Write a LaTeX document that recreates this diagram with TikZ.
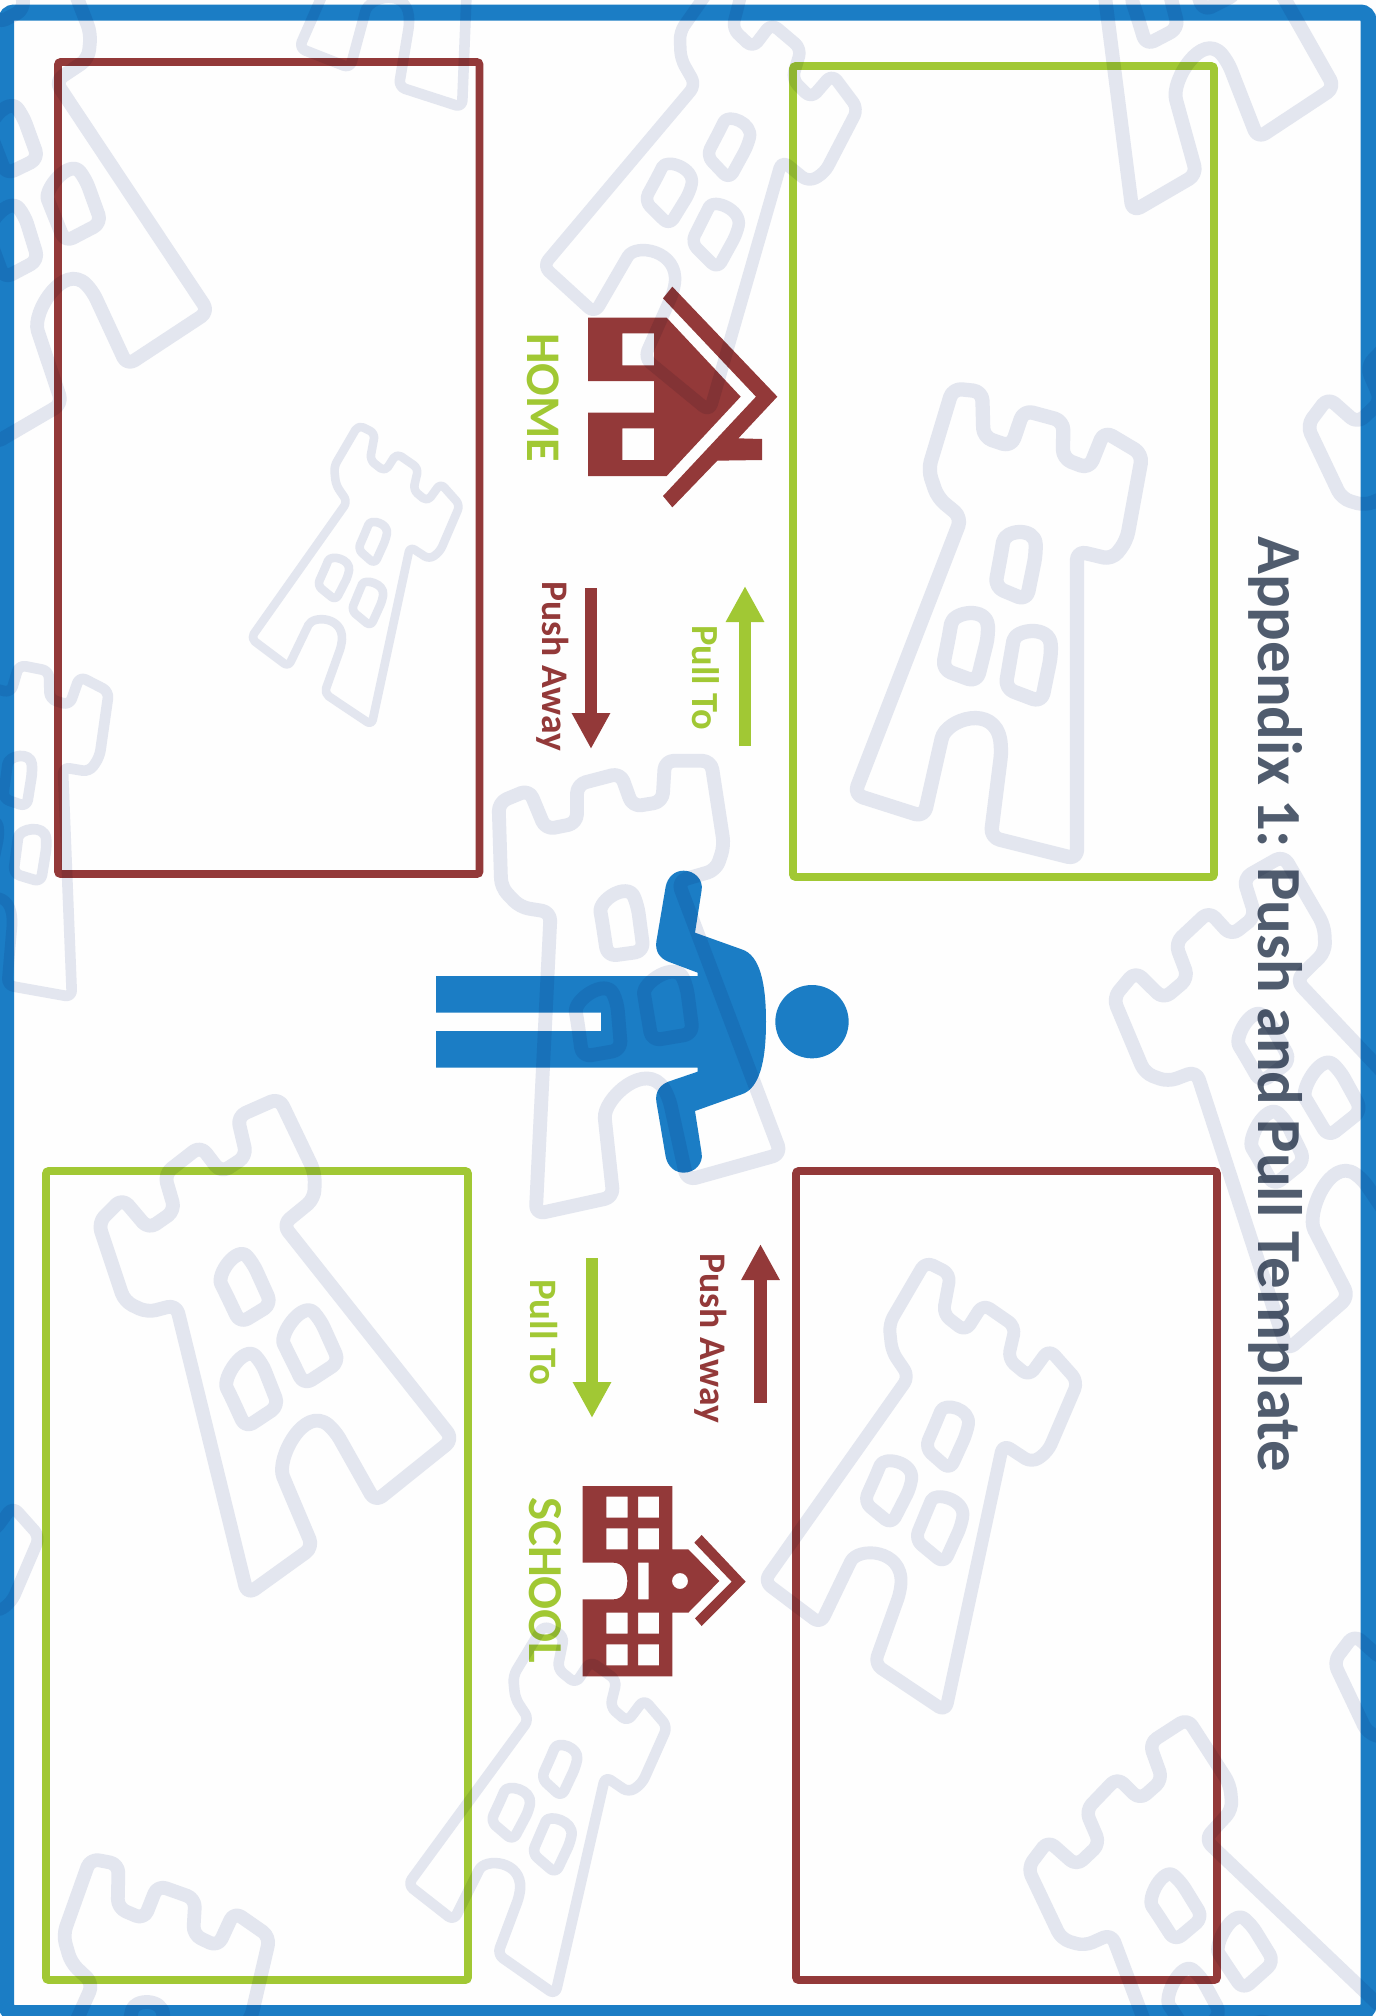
\documentclass[tikz,border=0pt]{standalone}
\usepackage{fontspec}
\usepackage{graphicx}
\setmainfont{Carlito}
\usetikzlibrary{arrows.meta}
\definecolor{brick}{RGB}{147,57,57}
\definecolor{leaf}{RGB}{161,200,52}
\definecolor{sky}{RGB}{27,125,197}
\definecolor{slatecol}{RGB}{80,92,110}
\definecolor{wmark}{RGB}{228,231,240}
\definecolor{paper}{RGB}{254,254,254}
\tikzset{
  framebox/.style={draw=#1,line width=7.6bp,rounded corners=2.5bp},
  lab/.style={rotate=-90,anchor=base west,inner sep=0pt,font=\bfseries},
  blockarrow/.style={draw=#1,line width=12.3bp,-{Triangle[length=36bp,width=36bp,fill=#1]}},
  zcoords/.style={scale=1/3}
}
\newcommand\wtower[5]{%
  \pgfmathsetmacro\wlw{8.6*#4}\pgfmathsetmacro\wrc{5.5*#4}%
  \begin{scope}[shift={(#1,#2)},xscale=#5,rotate=#3,scale=#4/3,xscale=1.3333,shift={(-382,-528)}]
    \draw[wmark,line width=\wlw bp,line join=round,rounded corners=\wrc bp]
      (62,715) -- (175,800) -- (228,690) .. controls (250,645) and (340,650) .. (335,735)
      -- (283,880) -- (425,975) -- (540,440) -- (598,478) -- (630,455) -- (690,315)
      -- (632,250) -- (592,305) -- (550,270) -- (565,205) -- (500,160) -- (465,215)
      -- (420,180) -- (435,100) -- (385,75) -- (312,200) -- (318,255) -- (352,305) -- cycle;
    \draw[wmark,line width=\wlw bp,line join=round,rounded corners=\wrc bp]
      (434,492) -- (384,448) -- (409,390) .. controls (423,355) and (476,370) .. (468,417) -- cycle;
    \draw[wmark,line width=\wlw bp,line join=round,rounded corners=\wrc bp]
      (317,601) -- (262,556) -- (288,498) .. controls (302,463) and (362,476) .. (355,527) -- cycle;
    \draw[wmark,line width=\wlw bp,line join=round,rounded corners=\wrc bp]
      (422,679) -- (364,631) -- (390,568) .. controls (404,535) and (465,550) .. (457,602) -- cycle;
  \end{scope}}
\begin{document}
\begin{tikzpicture}[x=1bp,y=-1bp]
\useasboundingbox (0,0) rectangle (1376,2016);
\fill[paper] (0,0) rectangle (1376,2016);
% frame
\draw[sky,line width=16bp,rounded corners=8bp] (6,12.5) rectangle (1368.5,2013);
% boxes
\draw[framebox=brick] (58,62) rectangle (479.5,874);
\draw[framebox=leaf] (793,66) rectangle (1214,877);
\draw[framebox=leaf] (46,1171) rectangle (468,1980);
\draw[framebox=brick] (796,1171) rectangle (1217,1980);
% home
\begin{scope}[shift={(500,270)},zcoords]
  \fill[brick,even odd rule] (264,143) -- (500,143) -- (722,380) -- (500,618) -- (264,618)
     -- (264,428) -- (462,428) -- (462,333) -- (264,333) -- cycle
     (367,190) rectangle (462,286) (367,475) rectangle (462,570);
  \fill[brick] (517,50) -- (832,380) -- (715,505) -- (786,507) -- (786,570) -- (652,572)
     -- (517,712) -- (489,678) -- (768,380) -- (489,85) -- cycle;
\end{scope}
% school
\begin{scope}[shift={(500,1460)},zcoords]
  \fill[brick,even odd rule] (248,78) -- (517,78) -- (517,268) -- (565,268) -- (658,363)
     -- (565,458) -- (517,458) -- (517,649) -- (248,649) -- (248,418) -- (340,418)
     .. controls (368,418) and (382,392) .. (382,363) .. controls (382,334) and (368,308) .. (340,308)
     -- (248,308) -- cycle
     (319,110) rectangle (383,173) (414,110) rectangle (477,173)
     (319,205) rectangle (383,268) (414,205) rectangle (477,268)
     (319,458) rectangle (383,521) (414,458) rectangle (477,521)
     (319,553) rectangle (383,616) (414,553) rectangle (477,616)
     (414,308) rectangle (446,418)
     (540,363) circle[radius=24];
  \fill[brick] (605,225) -- (737,365) -- (605,498) -- (585,475) -- (695,365) -- (583,248) -- cycle;
\end{scope}
% person
\begin{scope}[shift={(420,850)},zcoords]
  \fill[sky] (1176,515) circle[radius=110];
  \fill[sky] (48,378) -- (833,378) -- (833,368) -- (745,335) .. controls (720,325) and (705,305) .. (709,275)
    -- (737,110) .. controls (743,80) and (765,62) .. (791,62) .. controls (825,62) and (850,90) .. (845,120)
    -- (825,248) -- (965,298) .. controls (1020,315) and (1038,400) .. (1038,515)
    .. controls (1038,630) and (1020,715) .. (965,733) -- (825,783) -- (845,910)
    .. controls (850,940) and (825,968) .. (791,968) .. controls (765,968) and (743,950) .. (737,920)
    -- (709,755) .. controls (705,725) and (720,705) .. (745,695) -- (833,665) -- (833,653)
    -- (48,653) -- (48,543) -- (543,543) -- (543,488) -- (48,488) -- cycle;
\end{scope}
% arrows
\coordinate (a1s) at (591,588);   \coordinate (a1e) at (591,749);
\coordinate (a2s) at (745,746);   \coordinate (a2e) at (745,586);
\coordinate (a3s) at (592,1258);  \coordinate (a3e) at (592,1418);
\coordinate (a4s) at (760.5,1403);\coordinate (a4e) at (760.5,1244);
\draw[blockarrow=brick] (a1s) -- (a1e);
\draw[blockarrow=leaf] (a2s) -- (a2e);
\draw[blockarrow=leaf] (a3s) -- (a3e);
\draw[blockarrow=brick] (a4s) -- (a4e);
% texts
\node[lab,text=slatecol] (title) at (1258,536) {\fontsize{63}{63}\selectfont Appendix 1: Push and Pull Template};
\node[lab,text=leaf] (home) at (527,333) {\fontsize{48.5}{48.5}\selectfont HOME};
\node[lab,text=leaf] (school) at (529,1497) {\fontsize{49}{49}\selectfont SCHOOL};
\node[lab,text=brick] (push1) at (542,581) {\fontsize{37.7}{37.7}\selectfont Push Away};
\node[lab,text=leaf] (pull1) at (692,625) {\fontsize{38.5}{38.5}\selectfont Pull To};
\node[lab,text=leaf] (pull2) at (530,1279) {\fontsize{39}{39}\selectfont Pull To};
\node[lab,text=brick] (push2) at (700,1253) {\fontsize{37.7}{37.7}\selectfont Push Away};
% watermark towers on top, multiplied
\begin{scope}[blend mode=multiply]
  \clip (0,0) rectangle (1376,2016);
  \wtower{357.3}{576}{0}{1}{.75}
  \wtower{1003}{630}{16}{1.66}{.75}
  \wtower{630}{990}{40}{1.61}{.85}
  \wtower{703}{194}{-5}{1.45}{.75}
  \wtower{270}{1346}{60}{1.61}{.82}
  \wtower{924}{1488}{0}{1.5}{.75}
  \wtower{540}{1811}{-1}{1.23}{.75}
  \wtower{1206}{1958}{68}{1.56}{.82}
  \wtower{1176}{-33}{53}{1.62}{.75}
  \wtower{1292}{1102}{65}{1.6}{.82}
  \wtower{1490}{518}{68}{1.6}{.82}
  \wtower{34}{200}{55}{1.6}{.82}
  \wtower{10}{830}{19}{1.24}{.75}
  \wtower{414}{-66}{13}{1.23}{.75}
  \wtower{128}{2095}{12.5}{1.6}{.75}
  \wtower{-104}{1636}{0}{1.4}{.75}
  \wtower{1512}{1752}{68}{1.56}{.82}
\end{scope}
\end{tikzpicture}
\end{document}
